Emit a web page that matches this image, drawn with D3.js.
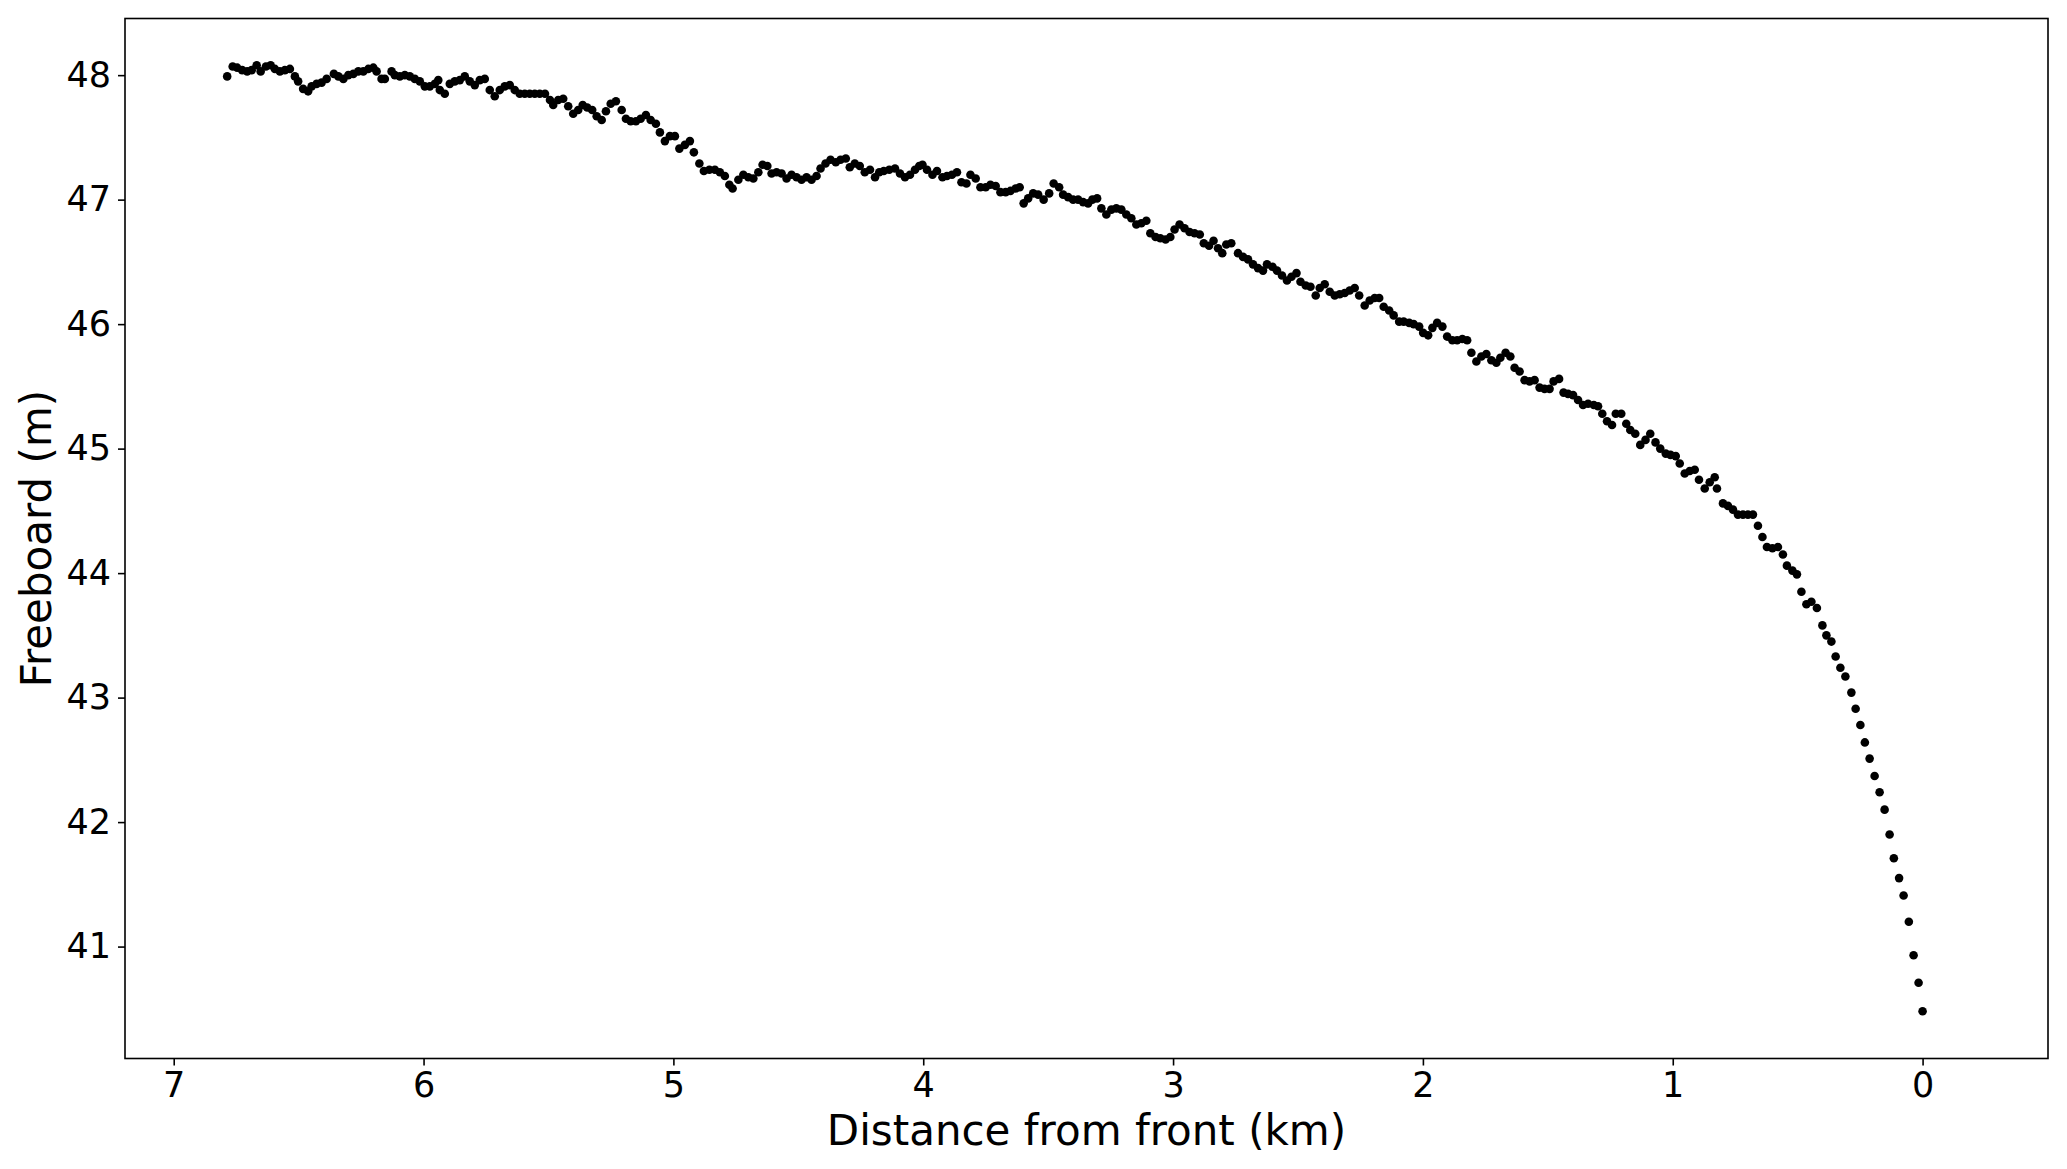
<!DOCTYPE html>
<html>
<head>
<meta charset="utf-8">
<script src="https://cdn.jsdelivr.net/npm/d3@7"></script>
<style>
  html, body { margin: 0; padding: 0; background: #fff; }
  svg { display: block; }
</style>
</head>
<body>
<div id="chart"></div>
<script>
// ---- data ----
const xTicks = [7, 6, 5, 4, 3, 2, 1, 0];
const yTicks = [41, 42, 43, 44, 45, 46, 47, 48];
const xLabel = "Distance from front (km)";
const yLabel = "Freeboard (m)";

// [distance from front (km), freeboard (m)]
const points = [
[6.786,47.99],[6.764,48.07],[6.746,48.06],[6.726,48.04],[6.706,48.03],[6.688,48.04],[6.668,48.08],[6.652,48.03],[6.631,48.07],[6.612,48.08],
[6.595,48.05],[6.575,48.03],[6.555,48.04],[6.535,48.05],[6.515,47.99],[6.502,47.95],[6.482,47.89],[6.462,47.87],[6.448,47.91],[6.428,47.93],
[6.408,47.94],[6.388,47.97],[6.359,48.01],[6.341,47.99],[6.321,47.97],[6.301,48.00],[6.281,48.01],[6.261,48.03],[6.241,48.03],[6.221,48.05],
[6.201,48.06],[6.188,48.03],[6.168,47.97],[6.155,47.97],[6.128,48.03],[6.115,48.00],[6.095,47.99],[6.075,48.00],[6.055,47.99],[6.035,47.97],
[6.015,47.95],[5.995,47.91],[5.975,47.91],[5.955,47.93],[5.941,47.96],[5.935,47.88],[5.915,47.85],[5.895,47.93],[5.875,47.95],[5.855,47.96],
[5.835,47.99],[5.815,47.95],[5.795,47.92],[5.775,47.96],[5.755,47.97],[5.735,47.88],[5.715,47.83],[5.695,47.88],[5.675,47.91],[5.655,47.92],
[5.635,47.88],[5.615,47.85],[5.595,47.85],[5.575,47.85],[5.555,47.85],[5.535,47.85],[5.514,47.85],[5.494,47.80],[5.481,47.76],[5.461,47.80],
[5.441,47.81],[5.421,47.75],
[5.401,47.69],[5.381,47.72],[5.363,47.76],[5.345,47.74],[5.325,47.72],[5.307,47.67],[5.287,47.64],[5.270,47.71],[5.251,47.77],[5.230,47.79],
[5.207,47.72],[5.190,47.65],[5.171,47.63],[5.150,47.63],[5.131,47.65],[5.110,47.68],[5.091,47.64],[5.070,47.61],[5.054,47.54],[5.034,47.47],
[5.014,47.51],[4.994,47.51],[4.976,47.41],[4.954,47.44],[4.934,47.47],[4.918,47.38],[4.896,47.29],[4.878,47.23],[4.856,47.24],[4.834,47.24],
[4.814,47.22],[4.794,47.19],[4.776,47.12],[4.763,47.09],[4.740,47.16],[4.720,47.20],[4.700,47.18],[4.680,47.17],[4.660,47.22],[4.643,47.28],
[4.624,47.27],[4.607,47.21],[4.587,47.22],[4.567,47.21],[4.547,47.17],[4.527,47.20],[4.507,47.18],[4.487,47.16],[4.467,47.18],[4.447,47.16],
[4.427,47.19],[4.411,47.25],[4.391,47.29],[4.371,47.32],[4.350,47.30],[4.331,47.32],[4.310,47.33],[4.294,47.26],[4.274,47.29],[4.254,47.27],
[4.234,47.22],[4.213,47.24],[4.193,47.18],[4.176,47.22],[4.158,47.23],[4.136,47.24],[4.113,47.25],[4.093,47.21],[4.073,47.18],[4.053,47.20],
[4.033,47.24],[4.016,47.27],
[4.003,47.28],[3.985,47.24],[3.963,47.20],[3.945,47.23],[3.923,47.18],[3.905,47.19],[3.885,47.20],[3.865,47.22],[3.847,47.14],[3.827,47.13],
[3.811,47.20],[3.790,47.17],[3.771,47.10],[3.750,47.10],[3.731,47.12],[3.710,47.11],[3.691,47.06],[3.670,47.06],[3.651,47.07],[3.630,47.09],
[3.614,47.10],[3.598,46.97],[3.580,47.01],[3.560,47.05],[3.540,47.04],[3.518,47.00],[3.496,47.05],[3.478,47.13],[3.456,47.10],[3.440,47.04],
[3.420,47.02],[3.400,47.00],[3.380,47.00],[3.360,46.98],[3.340,46.97],[3.323,47.00],[3.304,47.01],[3.287,46.93],[3.267,46.88],[3.247,46.92],
[3.227,46.93],[3.207,46.92],[3.187,46.88],[3.167,46.85],[3.147,46.80],[3.127,46.81],[3.107,46.83],[3.091,46.73],[3.070,46.70],[3.051,46.69],
[3.030,46.68],[3.011,46.70],[2.994,46.76],[2.974,46.80],[2.954,46.77],[2.934,46.74],[2.914,46.73],[2.893,46.72],[2.877,46.65],[2.856,46.63],
[2.838,46.67],[2.820,46.61],[2.803,46.57],[2.787,46.64],[2.767,46.65],[2.740,46.57],[2.720,46.54],[2.700,46.52],[2.680,46.48],[2.660,46.45],
[2.640,46.43],[2.624,46.48],[2.602,46.46],[2.584,46.43],[2.564,46.39],[2.544,46.35],[2.526,46.38],[2.506,46.41],[2.490,46.34],[2.469,46.31],
[2.450,46.30],[2.429,46.23],[2.413,46.29],[2.393,46.32],[2.373,46.26],[2.353,46.23],[2.333,46.24],[2.313,46.25],[2.293,46.27],[2.273,46.29],
[2.255,46.23],[2.233,46.15],[2.213,46.19],[2.193,46.21],[2.175,46.21],[2.157,46.14],[2.135,46.11],[2.117,46.07],[2.095,46.02],[2.077,46.02],
[2.055,46.01],[2.037,46.00],[2.015,45.98],[1.999,45.93],[1.979,45.91],[1.962,45.97],[1.943,46.01],[1.922,45.98],[1.903,45.90],[1.882,45.87],
[1.863,45.87],[1.842,45.88],[1.823,45.87],[1.806,45.77],[1.786,45.70],[1.766,45.74],[1.746,45.76],[1.726,45.71],[1.706,45.69],[1.690,45.73],
[1.669,45.77],[1.650,45.74],[1.633,45.65],[1.613,45.62],[1.593,45.55],[1.573,45.54],[1.553,45.55],[1.533,45.49],[1.513,45.48],[1.493,45.48],
[1.477,45.54],[1.455,45.56],[1.437,45.45],[1.419,45.44],[1.399,45.43],[1.379,45.39],
[1.359,45.35],[1.339,45.36],[1.316,45.35],[1.299,45.34],[1.282,45.28],[1.263,45.22],[1.243,45.19],[1.228,45.28],[1.206,45.28],[1.186,45.20],
[1.170,45.15],[1.150,45.12],[1.130,45.03],[1.109,45.07],[1.090,45.12],[1.069,45.05],[1.050,45.00],[1.028,44.96],[1.009,44.95],[0.988,44.94],
[0.972,44.88],[0.952,44.80],[0.932,44.82],[0.912,44.83],[0.895,44.75],[0.872,44.68],[0.852,44.73],[0.832,44.77],[0.823,44.68],[0.799,44.56],
[0.779,44.54],[0.759,44.51],[0.739,44.47],[0.719,44.47],[0.699,44.47],[0.679,44.47],[0.659,44.38],[0.641,44.29],[0.623,44.21],[0.601,44.20],
[0.579,44.21],[0.559,44.15],[0.543,44.06],[0.521,44.02],[0.503,43.99],[0.485,43.85],[0.465,43.75],[0.445,43.77],[0.423,43.72],[0.401,43.58],
[0.385,43.50],[0.365,43.45],[0.348,43.33],[0.329,43.24],[0.309,43.17],[0.285,43.04],[0.268,42.91],[0.249,42.78],[0.231,42.64],[0.212,42.51],
[0.192,42.37],[0.172,42.24],[0.152,42.10],[0.132,41.90],[0.115,41.71],[0.094,41.55],[0.076,41.41],[0.055,41.20],[0.036,40.93],[0.016,40.71],
[0.000,40.48]
];

// ---- layout ----
const W = 2067, H = 1169;
const plot = { left: 125, right: 2048, top: 18.5, bottom: 1058.5 };
const FONT = "'DejaVu Sans', sans-serif";

const svg = d3.select("#chart").append("svg")
  .attr("width", W).attr("height", H)
  .attr("viewBox", `0 0 ${W} ${H}`);

const x = d3.scaleLinear().domain([7.195, -0.502]).range([plot.left, plot.right]);
const y = d3.scaleLinear().domain([40.101, 48.455]).range([plot.bottom, plot.top]);

// points
svg.append("g")
  .selectAll("circle")
  .data(points)
  .join("circle")
  .attr("cx", d => x(d[0]))
  .attr("cy", d => y(d[1]))
  .attr("r", 4.3)
  .attr("fill", "#000");

// axes
const xAxis = d3.axisBottom(x).tickValues(xTicks).tickFormat(d3.format("d"))
  .tickSizeInner(7).tickSizeOuter(0).tickPadding(7);
const yAxis = d3.axisLeft(y).tickValues(yTicks).tickFormat(d3.format("d"))
  .tickSizeInner(7).tickSizeOuter(0).tickPadding(7);

const gx = svg.append("g").attr("transform", `translate(0,${plot.bottom})`).call(xAxis);
const gy = svg.append("g").attr("transform", `translate(${plot.left},0)`).call(yAxis);

[gx, gy].forEach(g => {
  g.select(".domain").remove();
  g.selectAll(".tick line").attr("stroke", "#000").attr("stroke-width", 1.6);
  g.selectAll(".tick text").attr("fill", "#000")
    .style("font-family", FONT).style("font-size", "35px");
});

// frame
svg.append("rect")
  .attr("x", plot.left).attr("y", plot.top)
  .attr("width", plot.right - plot.left).attr("height", plot.bottom - plot.top)
  .attr("fill", "none").attr("stroke", "#000").attr("stroke-width", 1.6);

// axis labels
svg.append("text")
  .attr("x", (plot.left + plot.right) / 2).attr("y", 1145)
  .attr("text-anchor", "middle")
  .style("font-family", FONT).style("font-size", "42px").attr("fill", "#000")
  .text(xLabel);

svg.append("text")
  .attr("transform", `translate(51,${(plot.top + plot.bottom) / 2}) rotate(-90)`)
  .attr("text-anchor", "middle")
  .style("font-family", FONT).style("font-size", "42px").attr("fill", "#000")
  .text(yLabel);
</script>
</body>
</html>
